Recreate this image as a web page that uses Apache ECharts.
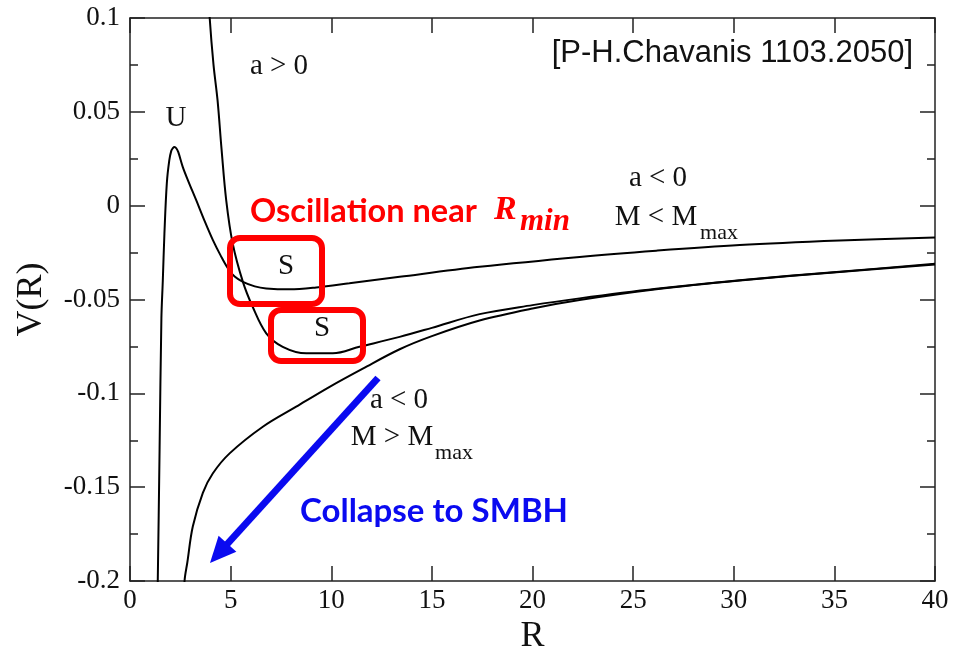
<!DOCTYPE html>
<html><head><meta charset="utf-8">
<script src="https://cdn.jsdelivr.net/npm/echarts@6/dist/echarts.min.js"></script>
<style>html,body{margin:0;padding:0;background:#fff}#c{width:971px;height:648px}</style>
</head><body><div id="c"></div>
<script>
// Curve "U" (a<0, M<Mmax): unstable max U, stable min S
const curveU_R = [1.30,1.38,1.47,1.56,1.63,1.71,1.83,1.95,2.05,2.13,2.21,2.30,2.40,2.62,2.90,3.29,3.70,4.12,4.50,4.87,5.20,5.61,6.20,6.77,7.93,9.25,10.9,13.4,17.37,22.34,26.15,30.3,35.26,40];
const curveU_V = [-0.25,-0.2,-0.13,-0.06,-0.04,-0.015,0.012,0.024,0.0292,0.0307,0.0313,0.0306,0.0285,0.0207,0.013,0.0029,-0.008,-0.0184,-0.0265,-0.0335,-0.0378,-0.0406,-0.0430,-0.0441,-0.0446,-0.0436,-0.0414,-0.0379,-0.0326,-0.0273,-0.0240,-0.0210,-0.0186,-0.0169];
// Curve a>0
const curveA_R = [3.90,3.96,4.15,4.35,4.55,4.78,5.10,5.61,6.10,6.77,7.59,8.76,10.08,11.4,13.4,15.0,17.37,20.0,22.34,26.15,30.3,35.26,40];
const curveA_V = [0.115,0.1,0.075,0.0562,0.030,0.003,-0.0200,-0.0406,-0.0540,-0.068,-0.0752,-0.0787,-0.0787,-0.0752,-0.0699,-0.0651,-0.0578,-0.0530,-0.0494,-0.0443,-0.0397,-0.0352,-0.0310];
// Curve a<0, M>Mmax (collapse)
const curveB_R = [2.65,2.71,2.85,3.12,3.62,4.12,4.95,6.6,8.26,9.92,11.57,13.4,15.0,17.37,20.0,22.34,26.15,30.3,35.26,40];
const curveB_V = [-0.22,-0.2,-0.19,-0.171,-0.153,-0.1426,-0.132,-0.1178,-0.1071,-0.0965,-0.0868,-0.0765,-0.0695,-0.0612,-0.0548,-0.0503,-0.0446,-0.0399,-0.0353,-0.0313];

const xTicks = [0,5,10,15,20,25,30,35,40];
const yTickLabels = {"0.1":"0.1","0.05":"0.05","0":"0","-0.05":"-0.05","-0.1":"-0.1","-0.15":"-0.15","-0.2":"-0.2"};

function pairs(xs, ys){ return xs.map((x,i)=>[x, ys[i]]); }

const serif = '"Liberation Serif", "Times New Roman", serif';
const axisCol = '#222';

const chart = echarts.init(document.getElementById('c'), null, {renderer:'canvas'});
const lineSeries = (name, d) => ({
  name, type:'line', data:d, xAxisIndex:0, yAxisIndex:0, showSymbol:false, symbol:'none',
  smooth:0.35, clip:true, lineStyle:{color:'#000', width:2}, animation:false, z:3
});

const tickStyle = {lineStyle:{color:axisCol, width:1.5}};
chart.setOption({
  animation:false,
  backgroundColor:'#fff',
  grid:{left:130, right:36, top:18, bottom:67, containLabel:false, outerBoundsMode:'none'},
  xAxis:[
    {type:'value', min:0, max:40, interval:5, position:'bottom',
     axisLine:{show:true, onZero:false, lineStyle:{color:axisCol, width:1.5}},
     axisTick:{show:true, inside:true, length:15, ...tickStyle},
     axisLabel:{color:'#111', fontFamily:serif, fontSize:27, margin:6,
       formatter:v=> xTicks.includes(v) ? String(v) : ''},
     splitLine:{show:false},
     name:'R', nameLocation:'middle', nameGap:34, nameTextStyle:{fontFamily:serif, fontSize:36, color:'#111', verticalAlign:'top'}},
    {type:'value', min:0, max:40, interval:5, position:'top',
     axisLine:{show:true, onZero:false, lineStyle:{color:axisCol, width:1.5}},
     axisTick:{show:true, inside:true, length:15, ...tickStyle},
     axisLabel:{show:false}, splitLine:{show:false}}
  ],
  yAxis:[
    {type:'value', min:-0.2, max:0.1, interval:0.05, position:'left',
     axisLine:{show:true, onZero:false, lineStyle:{color:axisCol, width:1.5}},
     axisTick:{show:true, inside:true, length:15, ...tickStyle},
     minorTick:{show:true, splitNumber:2, length:8, lineStyle:{color:axisCol, width:1.5}},
     axisLabel:{color:'#111', fontFamily:serif, fontSize:27, margin:10,
       formatter:v=>{const k=String(+v.toFixed(2)); return yTickLabels[k] ?? k;}},
     splitLine:{show:false},
     name:'V(R)', nameLocation:'middle', nameGap:80, nameRotate:90,
     nameTextStyle:{fontFamily:serif, fontSize:36, color:'#111'}},
    {type:'value', min:-0.2, max:0.1, interval:0.05, position:'right',
     axisLine:{show:true, onZero:false, lineStyle:{color:axisCol, width:1.5}},
     axisTick:{show:true, inside:true, length:15, ...tickStyle},
     minorTick:{show:true, splitNumber:2, length:8, lineStyle:{color:axisCol, width:1.5}},
     axisLabel:{show:false}, splitLine:{show:false}}
  ],
  series:[
    lineSeries('U', pairs(curveU_R, curveU_V)),
    lineSeries('a>0', pairs(curveA_R, curveA_V)),
    lineSeries('a<0, M>Mmax', pairs(curveB_R, curveB_V))
  ]
});

// annotations
const tip=[210,563], start=[378,378];
const dx=tip[0]-start[0], dy=tip[1]-start[1], L=Math.hypot(dx,dy), ux=dx/L, uy=dy/L;
const hl=26, hw=12;
const base=[tip[0]-hl*ux, tip[1]-hl*uy];
const w1=[base[0]+hw*(-uy), base[1]+hw*ux], w2=[base[0]-hw*(-uy), base[1]-hw*ux];
const blue='#0a0af0', red='#ff0000';
const t = (text, x, y, size, opts={}) => ({type:'text', z:10, style:Object.assign({text, x, y, font:`${size}px ${serif}`, fill:'#111', textAlign:'center', textVerticalAlign:'middle'}, opts)});
chart.setOption({graphic:[
  t('U', 176, 118, 29),
  t('a > 0', 279, 66, 29),
  t('a < 0', 658, 178, 29),
  t('M < M', 656, 217, 29),
  t('max', 719, 233, 22, {textAlign:'center'}),
  t('a < 0', 399, 400, 29),
  t('M > M', 392, 437, 29),
  t('max', 454, 453, 22),
  t('S', 286, 266, 29),
  t('S', 322, 328, 29),
  {type:'text', z:10, style:{text:'[P-H.Chavanis 1103.2050]', x:913, y:53, font:'31px "Liberation Sans", Arial, sans-serif', fill:'#111', textAlign:'right', textVerticalAlign:'middle'}},
  {type:'rect', z:9, shape:{x:230, y:238, width:92, height:66, r:10}, style:{fill:'none', stroke:red, lineWidth:6}},
  {type:'rect', z:9, shape:{x:271, y:310, width:92, height:51, r:10}, style:{fill:'none', stroke:red, lineWidth:6}},
  {type:'text', z:10, style:{text:'Oscillation near', x:250, y:212, font:'bold 32.5px Lato, "Open Sans", sans-serif', fill:red, textAlign:'left', textVerticalAlign:'middle'}},
  {type:'text', z:10, style:{text:'R', x:494, y:210, font:`italic bold 34px ${serif}`, fill:red, textAlign:'left', textVerticalAlign:'middle'}},
  {type:'text', z:10, style:{text:'min', x:520, y:222, font:`italic bold 31px ${serif}`, fill:red, textAlign:'left', textVerticalAlign:'middle'}},
  {type:'text', z:10, style:{text:'Collapse to SMBH', x:300, y:511, font:'bold 33px Lato, "Open Sans", sans-serif', fill:blue, textAlign:'left', textVerticalAlign:'middle'}},
  {type:'line', z:9, shape:{x1:start[0], y1:start[1], x2:base[0]+2*ux, y2:base[1]+2*uy}, style:{stroke:blue, lineWidth:7}},
  {type:'polygon', z:9, shape:{points:[tip, w1, w2]}, style:{fill:blue}}
]});
</script></body></html>
